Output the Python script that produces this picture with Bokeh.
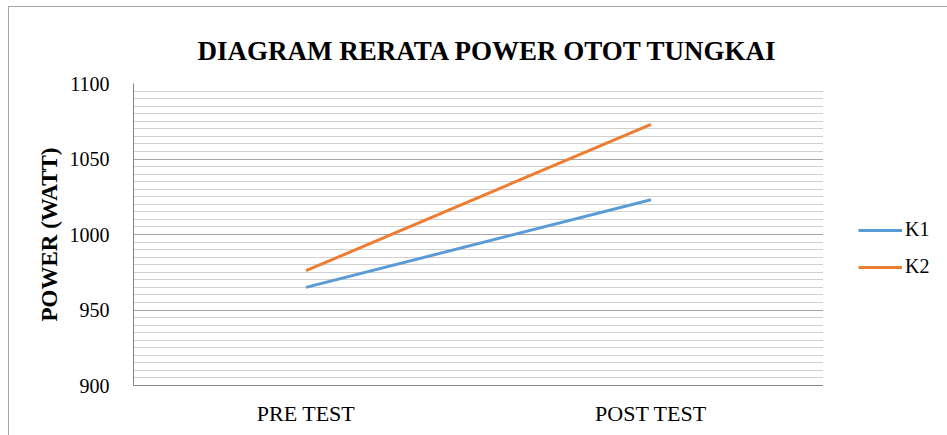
from bokeh.plotting import figure
from bokeh.layouts import row
from bokeh.models import ColumnDataSource, Range1d, FactorRange, SingleIntervalTicker, Legend, LegendItem
from bokeh.embed import file_html
from bokeh.resources import INLINE

categories = ["PRE TEST", "POST TEST"]
k1_values = [965, 1023]
k2_values = [976, 1073]
series_names = ["K1", "K2"]
colors = ["#5B9BD5", "#ED7D31"]
title_text = "DIAGRAM RERATA POWER OTOT TUNGKAI"

FONT = "Liberation Serif"

p = figure(width=814, height=428, x_range=FactorRange(*categories), y_range=Range1d(900, 1100),
           output_backend="svg", toolbar_location=None,
           min_border_left=124, min_border_right=0, min_border_top=76, min_border_bottom=50)

src1 = ColumnDataSource(dict(x=categories, y=k1_values))
src2 = ColumnDataSource(dict(x=categories, y=k2_values))
r1 = p.line("x", "y", source=src1, line_color=colors[0], line_width=3)
r2 = p.line("x", "y", source=src2, line_color=colors[1], line_width=3)

p.title.text = title_text
p.title.align = "left"
p.title.offset = 64
p.title.vertical_align = "top"
p.title.standoff = 32
p.title.text_font = FONT
p.title.text_font_size = "27px"
p.title.text_font_style = "bold"
p.title.text_color = "black"

p.outline_line_color = None
p.xgrid.grid_line_color = None
p.yaxis.ticker = SingleIntervalTicker(interval=50, num_minor_ticks=10)
p.ygrid.grid_line_color = "#a6a6a6"
p.ygrid.minor_grid_line_color = "#d0d0d0"

for ax in (p.xaxis, p.yaxis):
    ax.axis_line_color = "#868686"
    ax.major_tick_line_color = None
    ax.minor_tick_line_color = None
    ax.major_label_text_font = FONT
    ax.major_label_text_font_size = "20px"
    ax.major_label_text_color = "black"

p.xaxis.major_label_text_font_size = "22px"
p.yaxis.major_label_standoff = 18
p.xaxis.major_label_standoff = 9
p.yaxis.axis_label = "POWER (WATT)"
p.yaxis.axis_label_text_font = FONT
p.yaxis.axis_label_text_font_size = "23px"
p.yaxis.axis_label_text_font_style = "bold"
p.yaxis.axis_label_text_color = "black"
p.yaxis.axis_label_standoff = 5

# legend panel
p2 = figure(width=124, height=428, x_range=Range1d(0, 1), y_range=Range1d(0, 1),
            output_backend="svg", toolbar_location=None, x_axis_type=None, y_axis_type=None,
            min_border_left=0, min_border_right=0, min_border_top=0, min_border_bottom=0)
p2.outline_line_color = None
p2.xgrid.grid_line_color = None
p2.ygrid.grid_line_color = None
nan = float("nan")
l1 = p2.line(x=[nan, nan], y=[nan, nan], line_color=colors[0], line_width=3)
l2 = p2.line(x=[nan, nan], y=[nan, nan], line_color=colors[1], line_width=3)

legend = Legend(items=[LegendItem(label=series_names[0], renderers=[l1]),
                       LegendItem(label=series_names[1], renderers=[l2])],
                location=(35, 107), orientation="vertical")
legend.border_line_color = None
legend.background_fill_alpha = 0
legend.padding = 0
legend.margin = 0
legend.spacing = 14
legend.glyph_width = 44
legend.glyph_height = 20
legend.label_height = 20
legend.label_standoff = 3
legend.label_text_font = FONT
legend.label_text_font_size = "20px"
legend.label_text_color = "black"
p2.add_layout(legend)

layout = row(p, p2, margin=(6, 0, 0, 8),
             styles={"border-top": "1px solid #a6a6a6", "border-left": "1px solid #a6a6a6"})

open("out.html", "w").write(file_html(layout, INLINE))
